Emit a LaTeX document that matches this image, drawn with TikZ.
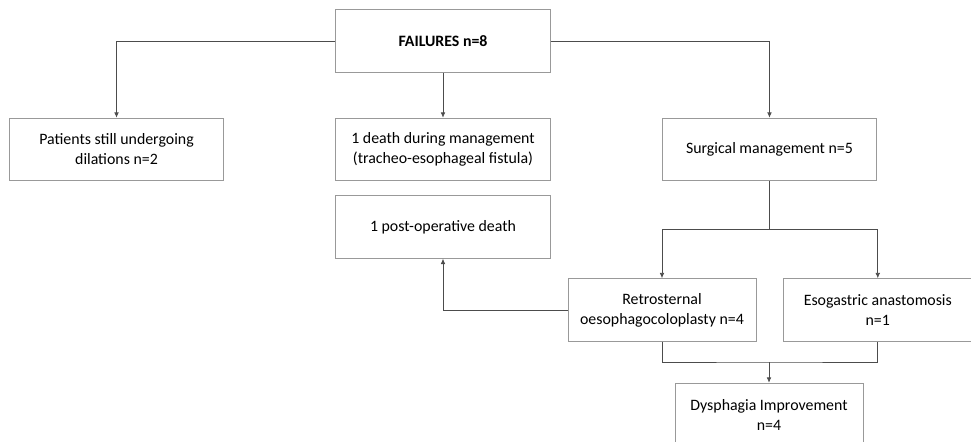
\documentclass[tikz,border=0pt]{standalone}
\usepackage{fontspec}
\setmainfont{Carlito}
\usetikzlibrary{positioning,arrows.meta}

\begin{document}
\begin{tikzpicture}[x=0.75pt, y=-0.75pt,
        boxnode/.style={rectangle, draw=black!40, line width=0.6pt, minimum width=161pt, minimum height=47pt, inner sep=2pt, align=center, font=\fontsize{11.9}{15}\selectfont},
        smallbox/.style={boxnode, minimum width=141pt},
        arrowline/.style={draw=black!70, line width=0.6pt, -{Latex[length=4pt,width=3.5pt]}},
        plainline/.style={draw=black!70, line width=0.6pt}]

        \useasboundingbox (0,0) rectangle (971,442);

        \node[boxnode] (1) at (443,41) {\textbf{FAILURES n=8}};
        \node[boxnode] (3) [below=33.75pt of 1] {1 death during management\\(tracheo-esophageal fistula)};
        \node[boxnode] (2) [left=83.25pt of 3] {Patients still undergoing\\dilations n=2};
        \node[boxnode] (4) [right=83.25pt of 3] {Surgical management n=5};
        \node[boxnode] (5) [below=10.5pt of 3] {1 post-operative death};
        \node[smallbox] (6) at (662,310) {Retrosternal\\oesophagocoloplasty n=4};
        \node[smallbox] (7) [right=20.25pt of 6] {Esogastric anastomosis\\n=1};
        \node[smallbox] (8) at (769,414.5) {Dysphagia Improvement\\n=4};

        \coordinate (j1) at (4.south |- 0,229);
        \coordinate (j2) at (769,362);

        \draw[arrowline] (1.west) -| (2.north);
        \draw[arrowline] (1) -- (3);
        \draw[arrowline] (1.east) -| (4.north);
        \draw[plainline] (4.south) -- (j1);
        \draw[arrowline] (j1) -| (6.north);
        \draw[arrowline] (j1) -| (7.north);
        \draw[arrowline] (6.west) -| (5.south);
        \draw[plainline] (6.south) |- (j2) -| (7.south);
        \draw[arrowline] (j2) -- (8);

        \end{tikzpicture}
\end{document}
